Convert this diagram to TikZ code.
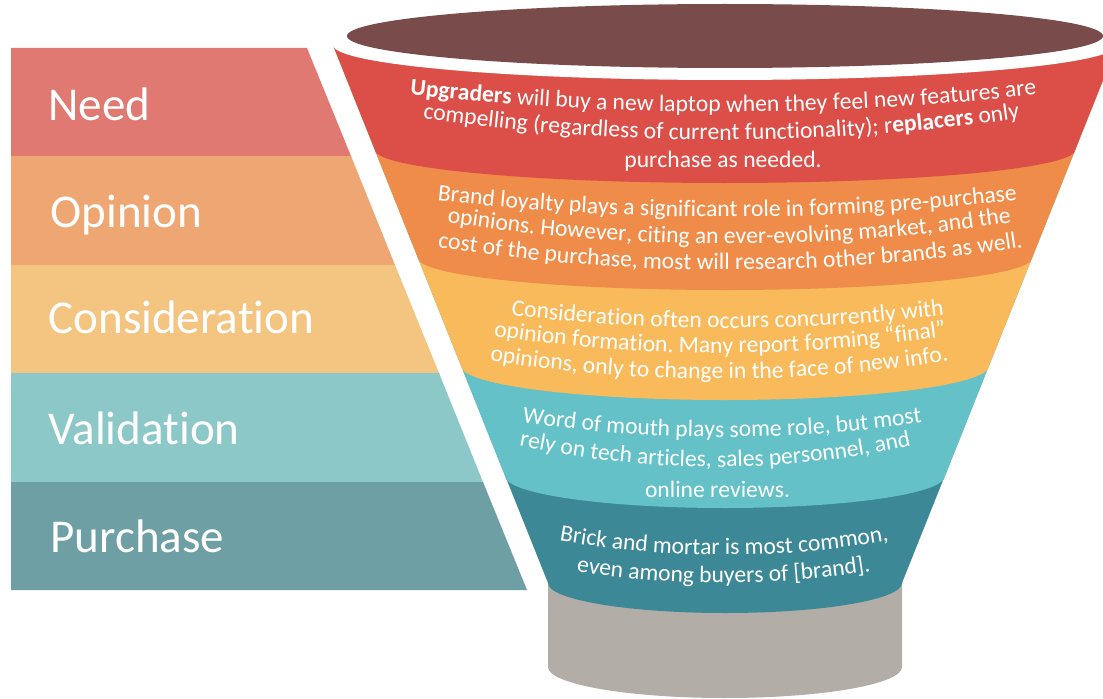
\documentclass[tikz,border=0pt]{standalone}
\usepackage{fontspec}
\setmainfont{Carlito}[Ligatures=NoCommon]
\usetikzlibrary{decorations.text}

\newcommand{\funnelfont}{\fontsize{17.7}{21}\selectfont\color{white}}
\newcommand{\funnelbold}{\fontsize{17.7}{21}\selectfont\bfseries\color{white}}

\tikzset{every picture/.style={line width=0.75pt}}
\tikzset{
  stagelabel/.style={anchor=base west, inner sep=0pt, text=white, font=\fontsize{35.3}{40}\selectfont},
  funneltext/.style={decorate, decoration={text along path, text align=center, text={#1}}}
}

\begin{document}
\begin{tikzpicture}[x=0.75pt,y=0.75pt,yscale=-1,xscale=1]
\useasboundingbox (0,0) rectangle (1103,699);

%Shape: Need band
\fill [fill={rgb, 255:red, 224; green, 121; blue, 113 }] (11,48) -- (307,48) -- (351.4,157) -- (11,157) -- cycle ;
%Shape: Opinion band
\fill [fill={rgb, 255:red, 238; green, 166; blue, 115 }] (11,156) -- (351,156) -- (395.4,266) -- (11,266) -- cycle ;
%Shape: Consideration band
\fill [fill={rgb, 255:red, 243; green, 197; blue, 128 }] (11,265) -- (395,265) -- (439.4,374) -- (11,374) -- cycle ;
%Shape: Validation band
\fill [fill={rgb, 255:red, 141; green, 200; blue, 200 }] (11,373) -- (439,373) -- (483.4,483) -- (11,483) -- cycle ;
%Shape: Purchase band
\fill [fill={rgb, 255:red, 110; green, 159; blue, 165 }] (11,482) -- (483,482) -- (527,590) -- (11,590) -- cycle ;

%Shape: Cylinder base
\fill [fill={rgb, 255:red, 178; green, 173; blue, 167 }] (548,583) -- (548,667) arc [start angle=180, end angle=0, x radius=177, y radius=31] -- (902,583) -- cycle ;
%Shape: Funnel dark teal
\fill [fill={rgb, 255:red, 61; green, 136; blue, 150 }] (333,45) -- (548,583) arc [start angle=180, end angle=0, x radius=177, y radius=30] -- (1117,45) -- cycle ;
%Shape: Funnel teal
\fill [fill={rgb, 255:red, 99; green, 193; blue, 199 }] (333,45) -- (505,476) arc [start angle=180, end angle=0, x radius=220, y radius=32] -- (1117,45) -- cycle ;
%Shape: Funnel yellow
\fill [fill={rgb, 255:red, 249; green, 186; blue, 92 }] (333,45) -- (461,366) arc [start angle=180, end angle=0, x radius=264, y radius=34] -- (1117,45) -- cycle ;
%Shape: Funnel orange
\fill [fill={rgb, 255:red, 239; green, 140; blue, 74 }] (333,45) -- (418,258) arc [start angle=180, end angle=0, x radius=307, y radius=32] -- (1117,45) -- cycle ;
%Shape: Funnel red
\fill [fill={rgb, 255:red, 219; green, 79; blue, 72 }] (333,45) -- (375,150) arc [start angle=180, end angle=0, x radius=350, y radius=33] -- (1117,45) -- cycle ;
%Shape: Rim
\fill [white] (725,45) ellipse [x radius=392, y radius=35] ;
%Shape: Opening
\fill [fill={rgb, 255:red, 121; green, 75; blue, 74 }] (725,36) ellipse [x radius=378, y radius=32] ;

% Text Node
\node (need) [stagelabel] at (48,120) {Need};
% Text Node
\node (opinion) [stagelabel] at (50,227) {Opinion};
% Text Node
\node (consid) [stagelabel] at (48,333) {Consideration};
% Text Node
\node (valid) [stagelabel] at (48,444) {Validation};
% Text Node
\node (purchase) [stagelabel] at (50,552) {Purchase};

% Curved text, need
\path [funneltext={|\funnelbold|Upgraders|\funnelfont| will buy a new laptop when they feel new features are}] (365,89.2) .. controls (603.7,119.6) and (842.3,119.6) .. (1081,89.2) ;
\path [funneltext={|\funnelfont|compelling (regardless of current functionality); r|\funnelbold|eplacers|\funnelfont| only}] (380,111.8) .. controls (607.3,149.4) and (834.7,149.4) .. (1062,111.8) ;
\path [funneltext={|\funnelfont|purchase as needed.}] (573,167) -- (873,167) ;
% Curved text, opinion
\path [funneltext={|\funnelfont|Brand loyalty plays a significant role in forming pre-purchase}] (395,195) .. controls (616.3,224.3) and (837.7,224.3) .. (1059,195) ;
\path [funneltext={|\funnelfont|opinions. However, citing an ever-evolving market, and the}] (405,215.4) .. controls (621,253.5) and (837,253.5) .. (1053,215.4) ;
\path [funneltext={|\funnelfont|cost of the purchase, most will research other brands as well.}] (395,240.3) .. controls (618.3,279.9) and (841.7,279.9) .. (1065,240.3) ;
% Curved text, consideration
\path [funneltext={|\funnelfont|Consideration often occurs concurrently with}] (470,309.8) .. controls (641.7,334.1) and (813.3,334.1) .. (985,309.8) ;
\path [funneltext={|\funnelfont|opinion formation. Many report forming “final”}] (460,330.6) .. controls (633.3,360.5) and (806.7,360.5) .. (980,330.6) ;
\path [funneltext={|\funnelfont|opinions, only to change in the face of new info.}] (453,354.1) .. controls (630.3,387.3) and (807.7,387.3) .. (985,354.1) ;
% Curved text, validation
\path [funneltext={|\funnelfont|Word of mouth plays some role, but most}] (482,416.1) .. controls (642,444) and (802,444) .. (962,416.1) ;
\path [funneltext={|\funnelfont|rely on tech articles, sales personnel, and}] (482,437.1) .. controls (637.3,477) and (792.7,477) .. (948,437.1) ;
\path [funneltext={|\funnelfont|online reviews.}] (617,497) -- (818,497) ;
% Curved text, purchase
\path [funneltext={|\funnelfont|Brick and mortar is most common,}] (518,532.7) .. controls (655.3,562.4) and (792.7,562.4) .. (930,532.7) ;
\path [funneltext={|\funnelfont|even among buyers of [brand].}] (535,563.7) .. controls (660.7,589.4) and (786.3,589.4) .. (912,563.7) ;

\end{tikzpicture}
\end{document}
